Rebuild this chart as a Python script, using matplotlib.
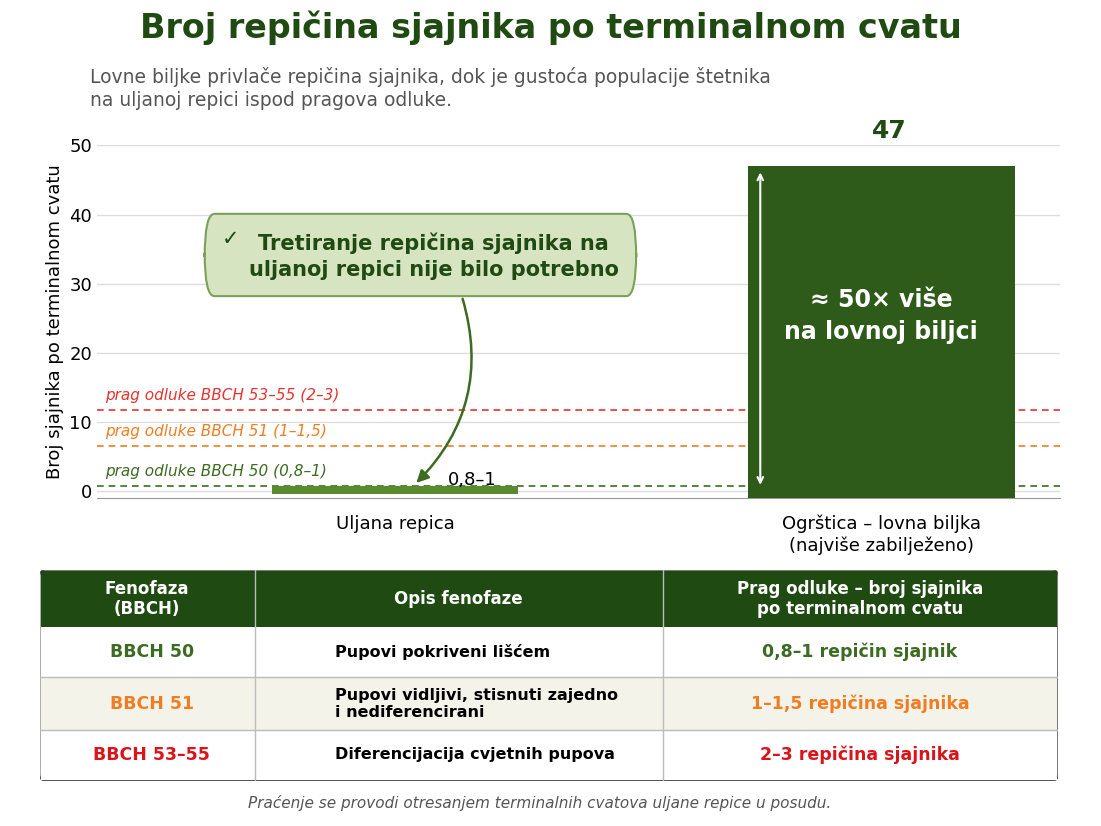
import matplotlib
matplotlib.use("Agg")
import matplotlib.pyplot as plt
from matplotlib.patches import FancyBboxPatch, Rectangle

categories = ["Uljana repica", "Ogrštica – lovna biljka\n(najviše zabilježeno)"]
values = [0.9, 47]
value_labels = ["0,8–1", "47"]
thresholds = [11.7, 6.5, 0.7]
threshold_labels = ["prag odluke BBCH 53–55 (2–3)", "prag odluke BBCH 51 (1–1,5)", "prag odluke BBCH 50 (0,8–1)"]
threshold_colors = ["#e8322f", "#f07d22", "#3d6b22"]
yticks = [0, 10, 20, 30, 40, 50]

table_header = ["Fenofaza\n(BBCH)", "Opis fenofaze", "Prag odluke – broj sjajnika\npo terminalnom cvatu"]
table_rows = [
    ["BBCH 50", "Pupovi pokriveni lišćem", "0,8–1 repičin sjajnik"],
    ["BBCH 51", "Pupovi vidljivi, stisnuti zajedno\ni nediferencirani", "1–1,5 repičina sjajnika"],
    ["BBCH 53–55", "Diferencijacija cvjetnih pupova", "2–3 repičina sjajnika"],
]
row_colors = ["#3d6b22", "#f07d22", "#d9141b"]

DG = "#1f4a12"
fig = plt.figure(figsize=(11.01, 8.26), dpi=100)
fig.text(0.5, 0.967, "Broj repičina sjajnika po terminalnom cvatu", ha="center", va="center",
         fontsize=24, fontweight="bold", color=DG)
fig.text(0.082, 0.893, "Lovne biljke privlače repičina sjajnika, dok je gustoća populacije štetnika\nna uljanoj repici ispod pragova odluke.",
         ha="left", va="center", fontsize=13.5, color="#555555", linespacing=1.3)

ax = fig.add_axes([0.088, 0.397, 0.875, 0.427])
ax.set_xlim(-0.766, 1.71)
ax.set_ylim(-1, 50)
ax.set_yticks(yticks)
ax.tick_params(axis="y", labelsize=13, length=0)
ax.set_xticks([0, 1.25])
ax.set_xticklabels(categories, fontsize=13)
ax.tick_params(axis="x", length=0, pad=12)
ax.grid(axis="y", color="#dddddd", lw=1)
ax.set_axisbelow(True)
for s in ["top", "right", "left"]:
    ax.spines[s].set_visible(False)
ax.spines["bottom"].set_color("#999999")
ax.set_ylabel("Broj sjajnika po terminalnom cvatu", fontsize=13)

ax.bar([0], [1.2], bottom=-0.4, width=0.633, color="#5a8a2e", zorder=3)
ax.bar([1.25], [values[1] + 1], bottom=-1, width=0.687, color="#2e5a1a", zorder=3)
ax.text(0.2, 1.6, value_labels[0], fontsize=13, ha="center", va="center")
ax.text(1.27, 50.3, value_labels[1], fontsize=18, fontweight="bold", color=DG, ha="center", va="bottom")
ax.annotate("", xy=(0.939, 0.5), xytext=(0.939, 46.5),
            arrowprops=dict(arrowstyle="<->", color="white", lw=1.5), zorder=4)
ax.text(1.25, 25.3, "≈ 50× više\nna lovnoj biljci", color="white", fontsize=17, fontweight="bold",
        ha="center", va="center", linespacing=1.4, zorder=4)

for t, lab, c in zip(thresholds, threshold_labels, threshold_colors):
    ax.axhline(t, color=c, ls=(0, (4, 3)), lw=1.2, zorder=1)
    ax.text(-0.745, t + 1.0, lab, color=c, fontsize=11, style="italic", ha="left", va="bottom",
            bbox=dict(fc="white", ec="none", pad=1))

box = FancyBboxPatch((-0.489, 28.2), 1.109, 11.9, boxstyle="round,pad=0,rounding_size=0.025",
                     fc="#d6e4c2", ec="#7aa05a", lw=1.5, mutation_aspect=250, zorder=5)
ax.add_patch(box)
ax.text(-0.445, 36.5, "✓", fontsize=15, color=DG, va="center", zorder=6)
ax.text(0.1, 34.0, "Tretiranje repičina sjajnika na\nuljanoj repici nije bilo potrebno", fontsize=15,
        fontweight="bold", color=DG, ha="center", va="center", linespacing=1.35, zorder=6)
ax.annotate("", xy=(0.05, 0.9), xytext=(0.172, 28.2),
            arrowprops=dict(arrowstyle="-|>", color="#3d6b22", lw=1.8, mutation_scale=18,
                            connectionstyle="arc3,rad=-0.3"), zorder=6)

# table
tax = fig.add_axes([0.036, 0.055, 0.925, 0.255])
tax.set_xlim(0, 1018); tax.set_ylim(210, 0); tax.axis("off")
cols = [0, 215, 623, 1018]
tax.add_patch(FancyBboxPatch((0, 0), 1018, 210, boxstyle="round,pad=0,rounding_size=6",
                             fc="white", ec="#555555", lw=1.2))
tax.add_patch(Rectangle((1, 1), 1016, 56, fc=DG, ec="none"))
for i, h in enumerate(table_header):
    tax.text((cols[i] + cols[i + 1]) / 2, 29, h, color="white", fontsize=12, fontweight="bold",
             ha="center", va="center")
row_y = [57, 107, 160, 209]
bgs = ["white", "#f3f3ea", "white"]
for r, row in enumerate(table_rows):
    tax.add_patch(Rectangle((1, row_y[r]), 1016, row_y[r + 1] - row_y[r], fc=bgs[r], ec="none"))
    cy = (row_y[r] + row_y[r + 1]) / 2
    tax.text(112, cy, row[0], color=row_colors[r], fontsize=12.5, fontweight="bold", ha="center", va="center")
    tax.text(295, cy, row[1], fontsize=11.5, fontweight="bold", ha="left", va="center")
    tax.text(820, cy, row[2], color=row_colors[r], fontsize=12.5, fontweight="bold", ha="center", va="center")
    if r > 0:
        tax.plot([0, 1018], [row_y[r], row_y[r]], color="#bbbbbb", lw=1)
for c in cols[1:3]:
    tax.plot([c, c], [0, 210], color="#bbbbbb", lw=1)

fig.text(0.49, 0.028, "Praćenje se provodi otresanjem terminalnih cvatova uljane repice u posudu.",
         ha="center", va="center", fontsize=11, style="italic", color="#555555")
fig.savefig("out.png", dpi=100)
